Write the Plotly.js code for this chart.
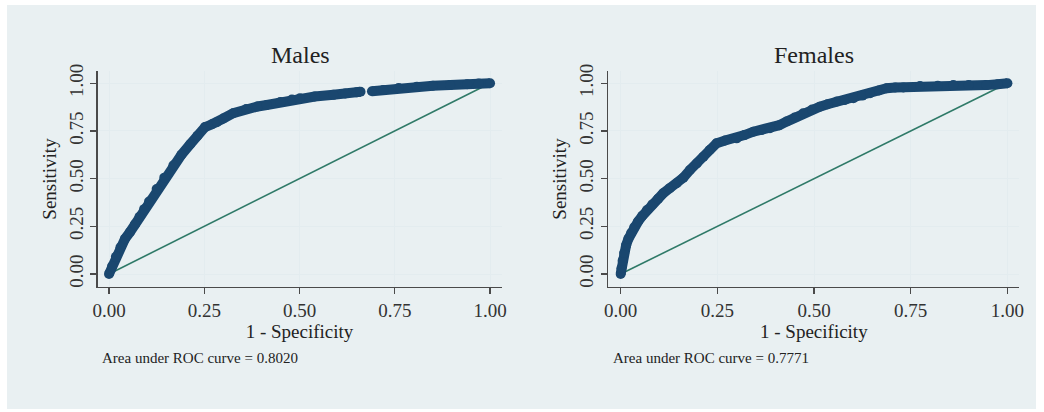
<!DOCTYPE html>
<html>
<head>
<meta charset="utf-8">
<script src="https://cdn.plot.ly/plotly-3.0.1.min.js"></script>
<style>html,body{margin:0;padding:0;background:#fff;}#chart{width:1044px;height:412px;}</style>
</head>
<body>
<div id="chart"></div>
<script>
// ---- data ----
var panelTitles = ["Males", "Females"];
var aucLabels = ["Area under ROC curve = 0.8020", "Area under ROC curve = 0.7771"];
var tickVals = [0, 0.25, 0.5, 0.75, 1];
var tickText = ["0.00", "0.25", "0.50", "0.75", "1.00"];
var refX = [0, 1];
var refY = [0, 1];

var maleFPR = [0, 0.008, 0.018, 0.03, 0.042, 0.055, 0.068, 0.08, 0.092, 0.105, 0.125, 0.145, 0.169, 0.19, 0.213, 0.232, 0.252, 0.27, 0.283, 0.30, 0.326, 0.36, 0.39, 0.414, 0.45, 0.48, 0.501, 0.54, 0.589, 0.62, 0.65, 0.66, null, 0.69, 0.72, 0.76, 0.808, 0.85, 0.895, 0.94, 0.97, 1.0];
var maleTPR = [0, 0.04, 0.09, 0.14, 0.185, 0.22, 0.26, 0.30, 0.34, 0.38, 0.445, 0.505, 0.57, 0.625, 0.68, 0.725, 0.77, 0.785, 0.795, 0.815, 0.843, 0.865, 0.878, 0.886, 0.902, 0.914, 0.921, 0.93, 0.939, 0.946, 0.952, 0.955, null, 0.958, 0.965, 0.975, 0.982, 0.987, 0.99, 0.995, 0.998, 1.0];

var femaleFPR = [0, 0.002, 0.005, 0.009, 0.014, 0.02, 0.027, 0.035, 0.045, 0.056, 0.068, 0.082, 0.097, 0.110, 0.127, 0.145, 0.162, 0.179, 0.197, 0.214, 0.23, 0.248, 0.27, 0.30, 0.32, 0.343, 0.365, 0.386, 0.41, 0.429, 0.45, 0.472, 0.495, 0.515, 0.535, 0.559, 0.58, 0.602, 0.625, 0.645, 0.668, 0.688, 0.71, 0.731, 0.774, 0.82, 0.86, 0.90, 0.946, 0.975, 1.0];
var femaleTPR = [0, 0.03, 0.07, 0.11, 0.15, 0.185, 0.215, 0.245, 0.275, 0.305, 0.335, 0.365, 0.395, 0.423, 0.45, 0.476, 0.505, 0.545, 0.58, 0.615, 0.65, 0.685, 0.70, 0.711, 0.728, 0.746, 0.755, 0.764, 0.78, 0.799, 0.82, 0.843, 0.862, 0.877, 0.89, 0.904, 0.912, 0.921, 0.935, 0.947, 0.962, 0.974, 0.978, 0.978, 0.985, 0.987, 0.99, 0.99, 0.99, 0.995, 1.0];

// ---- styling ----
var W = 1044, H = 412;
var navy = "#1a476f";
var green = "#2f7a68";
var serif = "Liberation Serif, Times New Roman, serif";

function px2x(p){ return p / W; }
function px2y(p){ return (H - p) / H; }

var yDomain = [px2y(287), px2y(71)];
var xDomL = [px2x(97.6), px2x(501.5)];
var xDomR = [px2x(608.3), px2x(1019.4)];

function curve(x, y, xa, ya){
  return {x: x, y: y, xaxis: xa, yaxis: ya, type: "scatter", mode: "lines+markers",
    connectgaps: false,
    line: {color: navy, width: 10, shape: "linear"},
    marker: {color: navy, size: 10, symbol: "circle"},
    hoverinfo: "x+y", showlegend: false};
}
function refLine(xa, ya){
  return {x: refX, y: refY, xaxis: xa, yaxis: ya, type: "scatter", mode: "lines",
    line: {color: green, width: 1.6}, showlegend: false, hoverinfo: "skip"};
}

var data = [
  refLine("x", "y"), curve(maleFPR, maleTPR, "x", "y"),
  refLine("x2", "y2"), curve(femaleFPR, femaleTPR, "x2", "y2")
];

function xAxis(dom, anchor, rng){
  return {domain: dom, anchor: anchor, range: rng, tickvals: tickVals, ticktext: tickText,
    showline: true, linecolor: "#4a4a4a", linewidth: 1.3, mirror: false,
    ticks: "outside", ticklen: 6, tickwidth: 1.2, tickcolor: "#4a4a4a",
    showgrid: true, gridcolor: "#e3ecef", gridwidth: 1, zeroline: false,
    tickfont: {family: serif, size: 19, color: "#333"},
    title: {text: "1 - Specificity", font: {family: serif, size: 19, color: "#222"}, standoff: 2}};
}
function yAxis(anchor){
  return {domain: yDomain, anchor: anchor, range: [-0.068, 1.064], tickvals: tickVals, ticktext: tickText,
    showline: true, linecolor: "#4a4a4a", linewidth: 1.3,
    ticks: "outside", ticklen: 6, tickwidth: 1.2, tickcolor: "#4a4a4a",
    showgrid: true, gridcolor: "#e3ecef", gridwidth: 1, zeroline: false,
    tickangle: -90,
    tickfont: {family: serif, size: 19, color: "#333"},
    title: {text: "Sensitivity", font: {family: serif, size: 19, color: "#222"}, standoff: 4}};
}

var layout = {
  width: W, height: H,
  margin: {l: 0, r: 0, t: 0, b: 0, pad: 0},
  paper_bgcolor: "#ffffff", plot_bgcolor: "#ffffff",
  showlegend: false,
  xaxis: xAxis(xDomL, "y", [-0.03, 1.03]),
  yaxis: yAxis("x"),
  xaxis2: xAxis(xDomR, "y2", [-0.032, 1.031]),
  yaxis2: yAxis("x2"),
  shapes: [
    {type: "rect", xref: "paper", yref: "paper", x0: px2x(7), x1: px2x(1036), y0: px2y(409), y1: px2y(5),
     fillcolor: "#e9f0f2", line: {width: 0}, layer: "below"}
  ],
  annotations: [
    {text: panelTitles[0], xref: "paper", yref: "paper", x: px2x(300), y: px2y(55), showarrow: false,
     xanchor: "center", yanchor: "middle", font: {family: serif, size: 24, color: "#222"}},
    {text: panelTitles[1], xref: "paper", yref: "paper", x: px2x(814), y: px2y(55), showarrow: false,
     xanchor: "center", yanchor: "middle", font: {family: serif, size: 24, color: "#222"}},
    {text: aucLabels[0], xref: "paper", yref: "paper", x: px2x(100), y: px2y(358), showarrow: false,
     xanchor: "left", yanchor: "middle", font: {family: serif, size: 15, color: "#222"}},
    {text: aucLabels[1], xref: "paper", yref: "paper", x: px2x(611), y: px2y(358), showarrow: false,
     xanchor: "left", yanchor: "middle", font: {family: serif, size: 15, color: "#222"}}
  ]
};

Plotly.newPlot("chart", data, layout, {displayModeBar: false, staticPlot: true});
</script>
</body>
</html>
